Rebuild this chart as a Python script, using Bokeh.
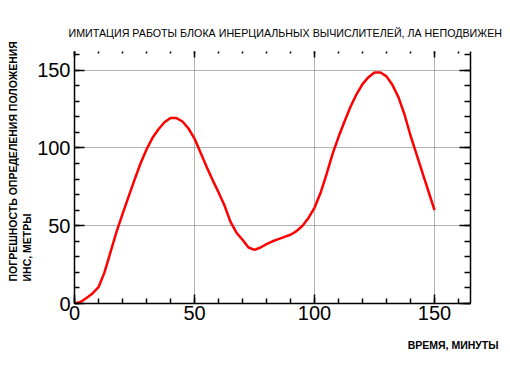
from bokeh.plotting import figure
from bokeh.models import Range1d, LinearAxis, Title, FixedTicker
from bokeh.embed import file_html
from bokeh.resources import INLINE

# data (minutes, metres)
minutes = [0, 2.5, 5, 7.5, 10, 12.5, 15, 17.5, 20, 22.5, 25, 27.5, 30, 32.5, 35, 37.5,
           40, 42.5, 45, 47.5, 50, 52.5, 55, 57.5, 60, 62.5, 65, 67.5, 70, 72.5, 75,
           77.5, 80, 82.5, 85, 87.5, 90, 92.5, 95, 97.5, 100, 102.5, 105, 107.5, 110,
           112.5, 115, 117.5, 120, 122.5, 125, 127.5, 130, 132.5, 135, 137.5, 140,
           142.5, 145, 147.5, 150]
error_m = [0, 1, 3.5, 6.5, 10.5, 20, 33, 46, 57.5, 68.5, 79.5, 90, 99, 106.5, 112,
           116.5, 119.2, 119.2, 117, 112.5, 106, 97, 88, 79.5, 71.5, 63, 52.5, 45.5,
           41, 36, 34.5, 36, 38.2, 40, 41.4, 42.8, 44.2, 46.5, 50, 55, 61.5, 71, 83,
           96, 107, 117, 126.5, 134.5, 141, 145.5, 148.5, 148.5, 146, 140.5, 132.5,
           121.5, 108, 96, 84, 72, 60]
x_major = [0, 50, 100, 150]
y_major = [0, 50, 100, 150]
x_minor = list(range(0, 170, 10))
y_minor = list(range(0, 170, 10))

title_text = "ИМИТАЦИЯ РАБОТЫ БЛОКА ИНЕРЦИАЛЬНЫХ ВЫЧИСЛИТЕЛЕЙ, ЛА НЕПОДВИЖЕН"
ylabel1 = "ПОГРЕШНОСТЬ ОПРЕДЕЛЕНИЯ ПОЛОЖЕНИЯ"
ylabel2 = "ИНС, МЕТРЫ"
xlabel = "ВРЕМЯ, МИНУТЫ"

FONT = "'Liberation Sans', Arial, sans-serif"
LABEL_SIZE = "10.5px"

p = figure(width=510, height=367, output_backend="svg", toolbar_location=None,
           x_range=Range1d(0, 165), y_range=Range1d(0, 162),
           x_axis_location=None, y_axis_location=None,
           min_border_left=74, min_border_right=40, min_border_top=51,
           min_border_bottom=64)
p.title = None
p.outline_line_color = None
p.background_fill_color = "white"
p.border_fill_color = "white"


def make_axis(ticks, minor, major_in, minor_in, labels=True, line=True):
    ax = LinearAxis()
    ax.ticker = FixedTicker(ticks=ticks, minor_ticks=minor)
    ax.major_tick_in = major_in
    ax.major_tick_out = 0
    ax.minor_tick_in = minor_in
    ax.minor_tick_out = 0
    ax.major_tick_line_color = "black"
    ax.minor_tick_line_color = "black"
    ax.major_tick_line_width = 1.5
    ax.minor_tick_line_width = 1.5
    ax.axis_line_width = 1.5
    ax.axis_line_color = "black" if line else None
    ax.major_label_text_font = "Liberation Sans"
    ax.major_label_text_font_size = "20px"
    ax.major_label_text_color = "black"
    if not labels:
        ax.major_label_text_font_size = "0px"
        ax.major_label_text_color = None
        ax.major_label_standoff = 0
    return ax


bottom = make_axis(x_major, x_minor, 9, 5)
bottom.major_label_standoff = 2
p.add_layout(bottom, "below")

left = make_axis(y_major, y_minor, 10, 5)
left.major_label_standoff = 4
# blank axis label only to leave a small gap before the two title lines
left.axis_label = " "
left.axis_label_text_font_size = "1px"
left.axis_label_standoff = -2
p.add_layout(left, "left")

top = make_axis(x_major, x_minor, 6, 2, labels=False, line=False)
p.add_layout(top, "above")

right = make_axis(y_major, y_minor, 11, 6, labels=False)
p.add_layout(right, "right")

p.xgrid.ticker = FixedTicker(ticks=[50, 100, 150])
p.ygrid.ticker = FixedTicker(ticks=[50, 100, 150])
for g in (p.xgrid, p.ygrid):
    g.grid_line_color = "#666666"
    g.grid_line_dash = "1 1"
    g.grid_line_width = 1

p.line(minutes, error_m, line_color="red", line_width=2.5)

p.add_layout(Title(text=title_text, align="left", offset=-6, standoff=26,
                   text_font=FONT, text_font_size="10.7px", text_font_style="normal",
                   text_color="black"), "above")
p.add_layout(Title(text=ylabel2, align="left", offset=22, standoff=0,
                   text_font=FONT, text_font_size=LABEL_SIZE, text_font_style="bold",
                   text_color="black"), "left")
p.add_layout(Title(text=ylabel1, align="left", offset=22, standoff=0,
                   text_font=FONT, text_font_size=LABEL_SIZE, text_font_style="bold",
                   text_color="black"), "left")
p.add_layout(Title(text=xlabel, align="right", offset=-28, standoff=28,
                   text_font=FONT, text_font_size=LABEL_SIZE, text_font_style="bold",
                   text_color="black"), "below")

open("out.html", "w").write(file_html(p, INLINE))
